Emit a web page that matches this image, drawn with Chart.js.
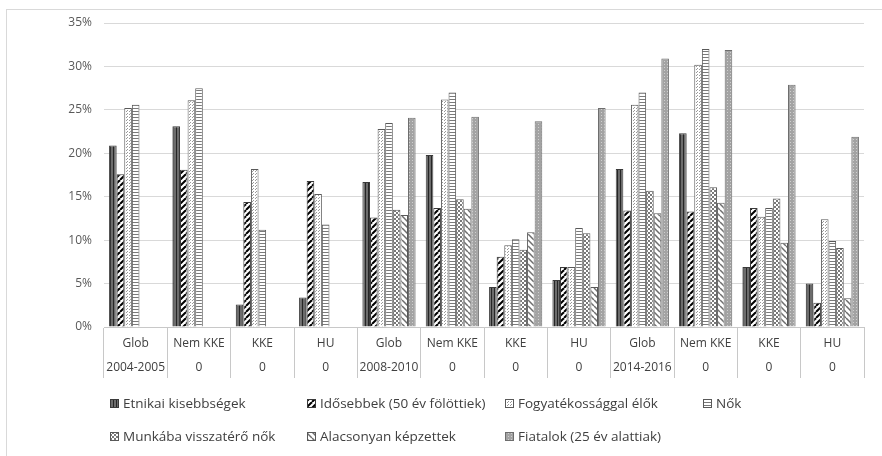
<!DOCTYPE html>
<html>
<head>
<meta charset="utf-8">
<script src="https://cdn.jsdelivr.net/npm/chart.js@4.4.1/dist/chart.umd.min.js"></script>
<style>
    body { margin: 0; background: #fff; }
    #wrap { position: relative; width: 882px; height: 456px; overflow: hidden; }
    #frame { position: absolute; left: 6px; top: 9px; width: 900px; height: 470px; border: 1px solid #d9d9d9; }
    #mycanvas { position: absolute; left: 0; top: 0; }
</style>
</head>
<body>
<div id="wrap">
    <div id="frame"></div>
    <canvas id="mycanvas" width="882" height="456"></canvas>
</div>
<script>
// categories (two label rows)
var regions = ['Glob', 'Nem KKE', 'KKE', 'HU', 'Glob', 'Nem KKE', 'KKE', 'HU', 'Glob', 'Nem KKE', 'KKE', 'HU'];
var periods = ['2004-2005', '0', '0', '0', '2008-2010', '0', '0', '0', '2014-2016', '0', '0', '0'];

// series values (%)
var etnikai   = [20.9, 23.1, 2.6, 3.4, 16.7, 19.8, 4.6, 5.4, 18.2, 22.3, 6.9, 5.0];
var idosebbek = [17.6, 18.1, 14.4, 16.8, 12.6, 13.7, 8.1, 6.9, 13.4, 13.3, 13.7, 2.8];
var fogyatek  = [25.2, 26.1, 18.2, 15.3, 22.8, 26.2, 9.4, 6.9, 25.6, 30.2, 12.7, 12.4];
var nok       = [25.6, 27.5, 11.2, 11.8, 23.5, 27.0, 10.1, 11.4, 27.0, 32.0, 13.7, 9.9];
var munkaba   = [null, null, null, null, 13.5, 14.7, 8.9, 10.8, 15.7, 16.1, 14.8, 9.1];
var alacsony  = [null, null, null, null, 12.9, 13.6, 10.9, 4.6, 13.1, 14.3, 9.7, 3.3];
var fiatalok  = [null, null, null, null, 24.1, 24.2, 23.7, 25.2, 30.9, 31.9, 27.9, 21.9];

var yTicks = [0, 5, 10, 15, 20, 25, 30, 35];

function makePattern(w, h, draw) {
    var c = document.createElement('canvas');
    c.width = w;
    c.height = h;
    var g = c.getContext('2d');
    draw(g);
    return g.createPattern(c, 'repeat');
}

var pEtnikai = makePattern(3, 1, function (g) {
    g.fillStyle = '#6c6c6c'; g.fillRect(0, 0, 3, 1);
    g.fillStyle = '#262626'; g.fillRect(2, 0, 1, 1);
});
var pIdos = makePattern(6, 6, function (g) {
    g.fillStyle = '#fff'; g.fillRect(0, 0, 6, 6);
    g.strokeStyle = '#000'; g.lineWidth = 2;
    for (var k = -6; k <= 12; k += 6) {
        g.beginPath(); g.moveTo(k, 6); g.lineTo(k + 6, 0); g.stroke();
    }
});
var pFogy = makePattern(3, 3, function (g) {
    g.fillStyle = '#fff'; g.fillRect(0, 0, 3, 3);
    g.fillStyle = '#9a9a9a'; g.fillRect(0, 0, 1, 1); g.fillRect(1, 2, 1, 1);
});
var pNok = makePattern(1, 3, function (g) {
    g.fillStyle = '#fff'; g.fillRect(0, 0, 1, 3);
    g.fillStyle = '#7a7a7a'; g.fillRect(0, 0, 1, 1);
});
var pMunka = makePattern(4, 4, function (g) {
    g.fillStyle = '#fff'; g.fillRect(0, 0, 4, 4);
    g.fillStyle = '#7a7a7a'; g.fillRect(0, 0, 2, 2); g.fillRect(2, 2, 2, 2);
});
var pAlacs = makePattern(6, 6, function (g) {
    g.fillStyle = '#fff'; g.fillRect(0, 0, 6, 6);
    g.strokeStyle = '#6e6e6e'; g.lineWidth = 1.5;
    for (var k = -6; k <= 12; k += 6) {
        g.beginPath(); g.moveTo(k, 0); g.lineTo(k + 6, 6); g.stroke();
    }
});
var pFiatal = makePattern(3, 3, function (g) {
    g.fillStyle = '#a3a3a3'; g.fillRect(0, 0, 3, 3);
    g.fillStyle = '#cfcfcf'; g.fillRect(1, 1, 1, 1);
});

function ds(label, data, pattern, border) {
    return {
        label: label,
        data: data,
        backgroundColor: pattern,
        borderColor: border,
        borderWidth: 1,
        categoryPercentage: 0.84,
        barPercentage: 1
    };
}

var chartdata = {
    labels: regions.map(function (r, i) { return [r, periods[i]]; }),
    datasets: [
        ds('Etnikai kisebbségek', etnikai, pEtnikai, '#3a3a3a'),
        ds('Idősebbek (50 év fölöttiek)', idosebbek, pIdos, '#3a3a3a'),
        ds('Fogyatékossággal élők', fogyatek, pFogy, '#595959'),
        ds('Nők', nok, pNok, '#595959'),
        ds('Munkába visszatérő nők', munkaba, pMunka, '#595959'),
        ds('Alacsonyan képzettek', alacsony, pAlacs, '#595959'),
        ds('Fiatalok (25 év alattiak)', fiatalok, pFiatal, '#6e6e6e')
    ]
};

// legend drawn in fixed columns, like the original
var legendCols = [110, 307, 505, 703];
var legendRows = [404, 437];
var gridLegend = {
    id: 'gridLegend',
    afterDraw: function (chart) {
        var ctx = chart.ctx;
        ctx.save();
        ctx.font = '13.5px "Open Sans"';
        ctx.textBaseline = 'middle';
        chart.data.datasets.forEach(function (d, i) {
            var x = legendCols[i < 4 ? i : i - 4];
            var y = legendRows[i < 4 ? 0 : 1];
            ctx.fillStyle = d.backgroundColor;
            ctx.fillRect(x, y - 5, 9, 9);
            ctx.strokeStyle = d.borderColor;
            ctx.lineWidth = 1;
            ctx.strokeRect(x + 0.5, y - 4.5, 8, 8);
            ctx.fillStyle = '#404040';
            ctx.fillText(d.label, x + 13, y);
        });
        ctx.restore();
    }
};

var ctx = document.getElementById('mycanvas');

var barGraph = new Chart(ctx, {
    type: 'bar',
    data: chartdata,
    plugins: [gridLegend],
    options: {
        responsive: false,
        animation: false,
        layout: { padding: { left: 0, top: 23, right: 18, bottom: 78 } },
        plugins: {
            legend: { display: false },
            tooltip: { enabled: false }
        },
        scales: {
            x: {
                grid: {
                    offset: true,
                    drawOnChartArea: false,
                    drawTicks: true,
                    tickLength: 51,
                    color: '#c8c8c8'
                },
                border: { display: true, color: '#c8c8c8' },
                ticks: {
                    color: '#404040',
                    font: { family: 'Open Sans', size: 12, lineHeight: 2.05 },
                    padding: -47,
                    maxRotation: 0,
                    autoSkip: false
                },
                afterFit: function (s) { s.height = 51; }
            },
            y: {
                min: 0,
                max: 35,
                afterBuildTicks: function (s) {
                    s.ticks = yTicks.map(function (v) { return { value: v }; });
                },
                grid: { color: '#d9d9d9', drawTicks: false },
                border: { display: false },
                ticks: {
                    color: '#595959',
                    font: { family: 'Open Sans', size: 12 },
                    padding: 12,
                    callback: function (v) { return v + '%'; }
                },
                afterFit: function (s) { s.width = 104; }
            }
        }
    }
});
</script>
</body>
</html>
